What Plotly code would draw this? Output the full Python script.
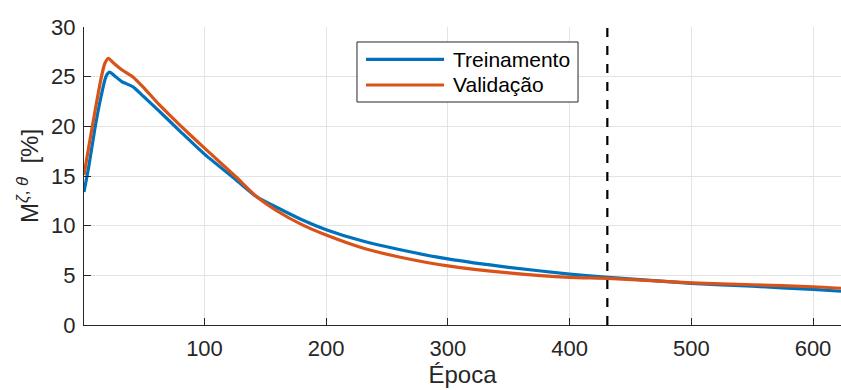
import plotly.graph_objects as go

# Training curve (Treinamento)
x_train = [1, 5, 10, 15, 19, 22, 26, 32, 41, 50, 63, 80, 100, 126, 143, 160, 180, 200,
           230, 260, 300, 350, 400, 432, 500, 550, 600, 623]
y_train = [13.4, 16.0, 19.8, 23.0, 25.0, 25.45, 25.1, 24.5, 24.0, 23.0, 21.5, 19.5, 17.2,
           14.6, 12.9, 11.8, 10.6, 9.6, 8.45, 7.6, 6.65, 5.8, 5.13, 4.8, 4.2, 3.9, 3.58, 3.4]

# Validation curve (Validação)
x_val = [1, 5, 10, 15, 18, 21, 25, 32, 41, 50, 63, 80, 100, 126, 143, 160, 180, 200,
         230, 260, 300, 350, 400, 432, 500, 550, 600, 623]
y_val = [15.1, 18.0, 21.5, 24.8, 26.3, 26.85, 26.4, 25.7, 25.0, 23.9, 22.15, 20.1, 17.8,
         14.9, 12.9, 11.45, 10.1, 9.05, 7.75, 6.85, 5.95, 5.25, 4.8, 4.7, 4.25, 4.05, 3.85, 3.7]

series_names = ["Treinamento", "Validação"]
series_colors = ["#0072BD", "#D95319"]

best_epoch = 431
x_ticks = [100, 200, 300, 400, 500, 600]
y_ticks = [0, 5, 10, 15, 20, 25, 30]

FONT = "Liberation Sans, Arial, Helvetica, sans-serif"
AX = "#262626"

fig = go.Figure()
for xs, ys, name, col in [(x_train, y_train, series_names[0], series_colors[0]),
                          (x_val, y_val, series_names[1], series_colors[1])]:
    fig.add_trace(go.Scatter(x=xs, y=ys, mode="lines", name=name, showlegend=False,
                             line=dict(color=col, width=3.2, shape="spline", smoothing=0.6)))

fig.add_shape(type="line", x0=best_epoch, x1=best_epoch, y0=0, y1=1, xref="x", yref="paper",
              line=dict(color="black", width=2.2, dash="dash"))

# Legend box drawn in the MATLAB style (longer line samples)
lx0, lx1, ly0, ly1 = 0.3606, 0.6526, 0.7483, 0.9497
fig.add_shape(type="rect", xref="paper", yref="paper", x0=lx0, x1=lx1, y0=ly0, y1=ly1,
              line=dict(color=AX, width=1), fillcolor="white", layer="above")
for i, (name, col) in enumerate(zip(series_names, series_colors)):
    yy = [0.8916, 0.8054][i]
    fig.add_shape(type="line", xref="paper", yref="paper", x0=0.3725, x1=0.4756, y0=yy, y1=yy,
                  line=dict(color=col, width=3.2), layer="above")
    fig.add_annotation(xref="paper", yref="paper", x=0.4848, y=yy, text=name, showarrow=False,
                       xanchor="left", yanchor="middle",
                       font=dict(family=FONT, size=21, color="#000000"))

fig.update_layout(
    width=841, height=390,
    margin=dict(l=84, r=0, t=27, b=65),
    paper_bgcolor="white", plot_bgcolor="white",
    font=dict(family=FONT, color=AX, size=22),
    showlegend=False,
)
fig.update_xaxes(range=[1, 623], tickvals=x_ticks, ticks="inside", ticklen=7,
                 tickcolor=AX, showline=True, linecolor=AX, linewidth=1,
                 showgrid=True, gridcolor="#e3e3e3", gridwidth=1, zeroline=False,
                 tickfont=dict(size=22, color=AX), ticklabelstandoff=4,
                 title=dict(text="Época", font=dict(size=24, color=AX), standoff=2))
fig.update_yaxes(range=[0, 30], tickvals=y_ticks, ticks="inside", ticklen=7,
                 tickcolor=AX, showline=True, linecolor=AX, linewidth=1,
                 showgrid=True, gridcolor="#e3e3e3", gridwidth=1, zeroline=False,
                 tickfont=dict(size=22, color=AX), ticklabelstandoff=3,
                 title=dict(text="M<sup><i>ζ</i>, <i>θ</i></sup>\u00a0\u00a0[%]",
                            font=dict(size=24, color=AX), standoff=5))

fig.write_html("out.html")
